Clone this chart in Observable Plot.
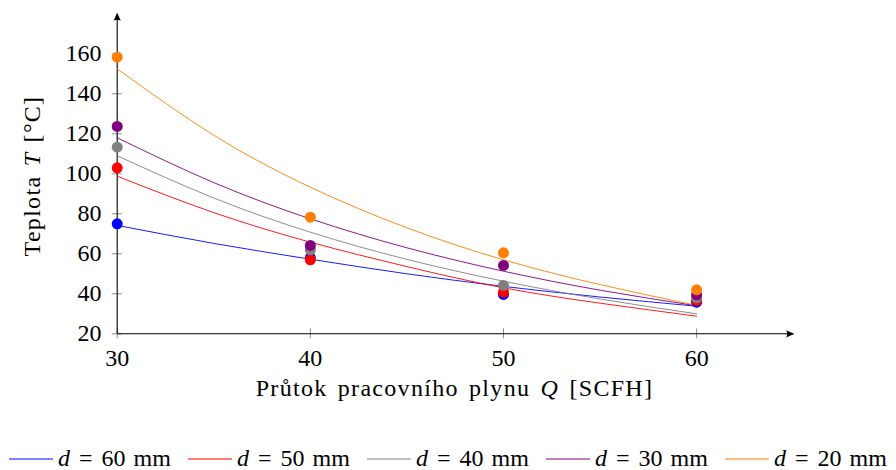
<!DOCTYPE html>
<html><head><meta charset="utf-8">
<script src="https://cdn.jsdelivr.net/npm/d3@7"></script>
<script src="https://cdn.jsdelivr.net/npm/@observablehq/plot@0.6"></script>
<style>
body{margin:0;background:#fff;}
#wrap{position:relative;width:896px;height:470px;overflow:hidden;font-family:'Liberation Serif',serif;color:#000;background:#fff;}
#wrap svg{display:block;}
#wrap svg text{font-family:'Liberation Serif',serif;}
</style></head><body><div id="wrap"></div>
<script>
// measured points
const Q = [30, 40, 50, 60];
const T60 = [75, 58, 39.7, 35.8];
const T50 = [103, 57, 40.8, 36.7];
const T40 = [113.3, 62, 44.2, 38];
const T30 = [123.7, 64.2, 54.2, 39.5];
const T20 = [158.3, 78.3, 60.5, 42];
// fitted curves
const Qfit = [30, 35, 40, 45, 50, 55, 60];
const F60 = [74.2, 65.2, 57.3, 50.0, 43.7, 38.4, 33.8];
const F50 = [98.8, 80.6, 65.8, 53.6, 43.0, 35.3, 28.8];
const F40 = [109, 87.9, 70.8, 57.2, 46.3, 37.4, 30.0];
const F30 = [118, 95.6, 77.5, 63.0, 51.3, 41.8, 34.0];
const F20 = [152.5, 119.3, 93.3, 73.0, 57.0, 44.6, 34.2];
const labels = ["60", "50", "40", "30", "20"];
const colors = ["#0000ff", "#ff0000", "#808080", "#800080", "#ff8000"];
const xTicks = [30, 40, 50, 60];
const yTicks = [20, 40, 60, 80, 100, 120, 140, 160];
const xDomain = [30, 65];
const yDomain = [20, 180];

const pts = [T60, T50, T40, T30, T20];
const fits = [F60, F50, F40, F30, F20];
const pointRows = labels.flatMap((d, k) => Q.map((q, i) => ({q, t: pts[k][i], d})));
const fitRows = labels.flatMap((d, k) => Qfit.map((q, i) => ({q, t: fits[k][i], d})));

const FONT = "'Liberation Serif', serif";

function arrowHead(color, context) {
  const m = d3.create("svg:marker")
    .attr("viewBox", "-8 -4 9 8")
    .attr("markerWidth", 9).attr("markerHeight", 8)
    .attr("markerUnits", "userSpaceOnUse")
    .attr("orient", "auto")
    .attr("fill", color).attr("stroke", "none");
  m.append("path").attr("d", "M1,0 L-7,-3.6 Q-5,0 -7,3.6 Z");
  return m.node();
}

const chart = Plot.plot({
  width: 896, height: 430,
  marginLeft: 116.7, marginRight: 103.3, marginTop: 13.3, marginBottom: 96.7,
  style: {fontFamily: FONT, fontSize: "24px", background: "white", color: "black"},
  x: {domain: xDomain},
  y: {domain: yDomain},
  color: {domain: labels, range: colors},
  marks: [
    Plot.axisY({ticks: yTicks, tickSize: 10, dx: 5, tickFormat: () => "", stroke: "#8c8c8c", label: null}),
    Plot.axisX({ticks: xTicks, tickSize: 10, dy: -5, tickFormat: () => "", stroke: "#8c8c8c", label: null}),
    Plot.axisY({ticks: yTicks, tickSize: 0, tickPadding: 15.7, fontSize: 24, label: null}),
    Plot.axisX({ticks: xTicks, tickSize: 0, tickPadding: 15, fontSize: 24, label: null}),
    Plot.link([0], {x1: xDomain[0], y1: yDomain[0], x2: xDomain[0], y2: yDomain[1], stroke: "black", strokeWidth: 1.1, markerEnd: arrowHead}),
    Plot.link([0], {x1: xDomain[0], y1: yDomain[0], x2: xDomain[1], y2: yDomain[0], stroke: "black", strokeWidth: 1.1, markerEnd: arrowHead}),
    Plot.line(fitRows, {x: "q", y: "t", z: "d", stroke: "d", strokeWidth: 0.9, curve: "natural"}),
    Plot.dot(pointRows, {x: "q", y: "t", fill: "d", r: 5.5})
  ]
});

const svg = d3.select(chart);
const yl = svg.append("text")
  .attr("transform", "translate(39.5,176) rotate(-90)")
  .attr("text-anchor", "middle")
  .style("font-family", FONT)
  .style("font-size", "24px").style("letter-spacing", "1.3px").style("word-spacing", "2px");
yl.append("tspan").text("Teplota ");
yl.append("tspan").attr("font-style", "italic").text("T");
yl.append("tspan").text(" [°C]");

const xl = svg.append("text")
  .attr("x", 454.5).attr("y", 396)
  .attr("text-anchor", "middle")
  .style("font-family", FONT)
  .style("font-size", "24px").style("letter-spacing", "1.3px").style("word-spacing", "3px");
xl.append("tspan").text("Průtok pracovního plynu ");
xl.append("tspan").attr("font-style", "italic").text("Q");
xl.append("tspan").text(" [SCFH]");

const wrap = document.getElementById("wrap");
wrap.appendChild(chart);

// legend below the chart
const lg = d3.create("svg")
  .attr("width", 896).attr("height", 40)
  .attr("viewBox", "0 0 896 40")
  .style("font-family", FONT).style("font-size", "24px");
labels.forEach((d, k) => {
  const x0 = 9 + 179 * k;
  lg.append("line")
    .attr("x1", x0).attr("x2", x0 + 44)
    .attr("y1", 29).attr("y2", 29)
    .attr("stroke", colors[k]).attr("stroke-width", 1.2);
  const t = lg.append("text").attr("x", x0 + 49).attr("y", 35.5).attr("fill", "black");
  t.append("tspan").attr("font-style", "italic").text("d");
  t.append("tspan").attr("dx", 9).text("=");
  t.append("tspan").attr("dx", 9).text(d);
  t.append("tspan").attr("dx", 8).text("mm");
});
wrap.appendChild(lg.node());
</script>
</body></html>
